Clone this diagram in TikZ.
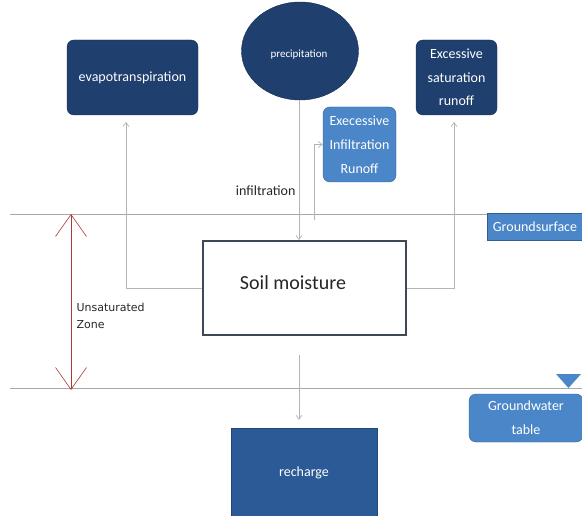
\documentclass[tikz,border=0pt]{standalone}
\usepackage{fontspec}
\setmainfont{Carlito}
\newfontfamily\zonefont{DejaVu Sans}
\usetikzlibrary{arrows.meta,shapes.geometric}
\definecolor{navy}{HTML}{1F3F6E}
\definecolor{lightblue}{HTML}{4A86C8}
\definecolor{midblue}{HTML}{2C5A96}
\definecolor{connc}{HTML}{B4B4B4}
\definecolor{linec}{HTML}{A8A8A8}
\definecolor{zonered}{HTML}{A83A3A}
\definecolor{soilborder}{HTML}{3E4858}
\tikzset{
  darkbox/.style={fill=navy, draw=navy!70!black, rounded corners=7pt, text=white, align=center, inner sep=2pt,
     font=\fontsize{14}{23.5}\selectfont},
  lightbox/.style={fill=lightblue, draw=lightblue!70!black, rounded corners=7pt, text=white, align=center, inner sep=2pt,
     font=\fontsize{14}{24}\selectfont},
  conn/.style={draw=connc, line width=0.7pt, -{Straight Barb[length=4pt,width=6pt]}},
  ground/.style={draw=linec, line width=0.7pt},
  zone/.style={draw=zonered, line width=0.6pt, {Straight Barb[length=22pt,width=31pt]}-{Straight Barb[length=22pt,width=31pt]}}
}
\begin{document}
\begin{tikzpicture}[x=1pt,y=-1pt]
\useasboundingbox (0,0) rectangle (582,516);
% ground lines
\draw[ground] (10,214) -- (582,214);
\draw[ground] (10,388) -- (582,388);
% nodes
\node[darkbox, minimum width=131pt, minimum height=75pt] (evap) at (132.5,77.5) {evapotranspiration};
\node[ellipse, fill=navy, draw=navy!70!black, minimum width=117pt, minimum height=98pt, inner sep=0pt] (precip) at (300,51) {};
\node[text=white, font=\fontsize{11}{13}\selectfont] (preciptxt) at (299,55) {precipitation};
\node[darkbox, minimum width=81pt, minimum height=75pt] (exsat) at (456.5,77.5) {Excessive\\saturation\\runoff};
\node[lightbox, minimum width=73pt, minimum height=75pt] (exinf) at (359.5,144.5) {Execessive\\Infiltration\\Runoff};
\node[fill=lightblue, draw=lightblue!70!black, text=white, minimum width=96pt, minimum height=27pt, inner sep=1pt,
  font=\fontsize{14}{16}\selectfont] (gsurf) at (535,226.5) {Groundsurface};
\node[lightbox, minimum width=114pt, minimum height=48pt] (gwt) at (526,418) {Groundwater\\table};
\node[draw=soilborder, line width=1.1pt, fill=white, minimum width=203pt, minimum height=94pt] (soil) at (304.5,288) {};
\node[font=\fontsize{20}{22}\selectfont, text=black!85] (soiltxt) at (293,283) {Soil moisture};
\node[fill=midblue, draw=midblue!80!black, text=white, minimum width=146pt, minimum height=90pt,
  font=\fontsize{14}{16}\selectfont] (rech) at (304,473) {recharge};
\node[font=\fontsize{14}{16}\selectfont, text=black!85, anchor=east] (inflbl) at (299,191) {infiltration};
\node[font=\zonefont\fontsize{11}{17}\selectfont, text=black!85, align=left, anchor=west] (zonelbl) at (73,316) {Unsaturated\\Zone};
% triangle marker
\fill[lightblue] (556,374) -- (581,374) -- (568.5,388) -- cycle;
% connectors
\coordinate (evapin) at (126,115);
\coordinate (exsatin) at (454,115);
\draw[conn, shorten >=7pt] (soil.west) -| (evapin);
\draw[conn, shorten >=7pt] (soil.east) -| (exsatin);
\draw[conn] (precip.south -| 299,0) -- (299,240);
\coordinate (inf0) at (314,220);
\draw[conn] (inf0) |- (exinf.west);
\coordinate (rc0) at (299,355);
\draw[conn, shorten >=8pt] (rc0) -- (rc0 |- rech.north);
\coordinate (za) at (71,214);
\coordinate (zb) at (71,390);
\draw[zone] (za) -- (zb);
\end{tikzpicture}
\end{document}
